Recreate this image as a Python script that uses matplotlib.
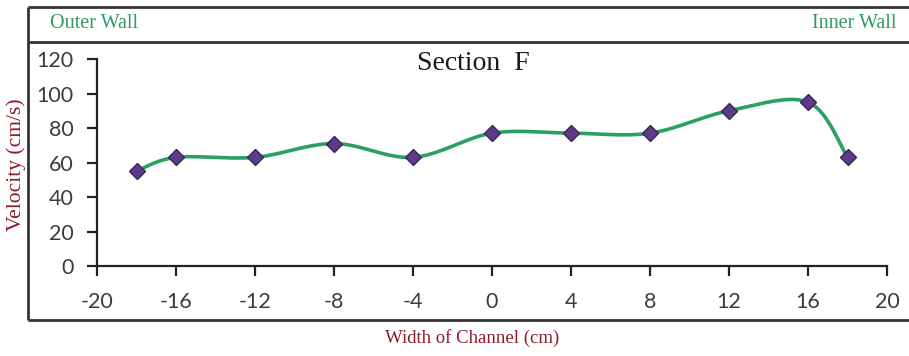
import numpy as np
import matplotlib
matplotlib.use("Agg")
import matplotlib.pyplot as plt
from matplotlib.lines import Line2D

# Measurement positions across the channel (cm) and depth-averaged velocity (cm/s)
width_cm = [-18, -16, -12, -8, -4, 0, 4, 8, 12, 16, 18]
velocity = [55, 63, 63, 71, 63, 77, 77, 77, 90, 95, 63]

x_ticks = [-20, -16, -12, -8, -4, 0, 4, 8, 12, 16, 20]
y_ticks = [0, 20, 40, 60, 80, 100, 120]

title = "Section  F"
x_label = "Width of Channel (cm)"
y_label = "Velocity (cm/s)"
left_note = "Outer Wall"
right_note = "Inner Wall"


def smooth_curve(xs, ys, n=40):
    """Cubic Bezier smoothing through every point (spreadsheet-style smoothed line)."""
    p = np.column_stack([xs, ys]).astype(float)
    ext = np.vstack([p[0], p, p[-1]])
    out = []
    t = np.linspace(0, 1, n)[:, None]
    for i in range(len(p) - 1):
        p0, p1, p2, p3 = ext[i], ext[i + 1], ext[i + 2], ext[i + 3]
        c1 = p1 + (p2 - p0) / 6.0
        c2 = p2 - (p3 - p1) / 6.0
        seg = ((1 - t) ** 3) * p1 + 3 * ((1 - t) ** 2) * t * c1 + 3 * (1 - t) * t ** 2 * c2 + t ** 3 * p2
        out.append(seg if i == 0 else seg[1:])
    seg = np.vstack(out)
    return seg[:, 0], seg[:, 1]


W, H = 909, 356
fig = plt.figure(figsize=(W / 100, H / 100), dpi=100)
fig.patch.set_facecolor("white")


def fx(px):
    return px / W


def fy(py):
    return 1 - py / H


ax = fig.add_axes([fx(97), fy(266), fx(887) - fx(97), fy(59) - fy(266)])
ax.set_facecolor("none")

sx, sy = smooth_curve(width_cm, velocity)
ax.plot(sx, sy, color="#2aa064", lw=2.6, solid_capstyle="round", zorder=2)
ax.plot(width_cm, velocity, linestyle="none", marker="D", markersize=8,
        markerfacecolor="#5c3b88", markeredgecolor="#3a2458", markeredgewidth=1.0, zorder=3)

ax.set_xlim(-20, 20)
ax.set_ylim(0, 120)
ax.set_xticks(x_ticks)
ax.set_yticks(y_ticks)
ax.set_xticklabels([str(v) for v in x_ticks])
ax.set_yticklabels([str(v) for v in y_ticks])

for side in ("top", "right"):
    ax.spines[side].set_visible(False)
for side in ("left", "bottom"):
    ax.spines[side].set_color("#222222")
    ax.spines[side].set_linewidth(1.6)

ax.tick_params(axis="x", direction="out", length=7, width=1.6, color="#222222", pad=12)
ax.tick_params(axis="y", direction="out", length=7, width=1.6, color="#222222", pad=10)
for lab in ax.get_xticklabels() + ax.get_yticklabels():
    lab.set_fontfamily("Lato")
    lab.set_fontsize(15.5)
    lab.set_color("#3c3c3c")

serif = ["Liberation Serif", "DejaVu Serif"]
fig.text(fx(473), fy(64), title, ha="center", va="center", fontsize=20,
         family=serif, color="#1a1a1a")
fig.text(fx(472), fy(338), x_label, ha="center", va="center", fontsize=13.5,
         family=serif, color="#8b1c2c")
fig.text(fx(16), fy(165), y_label, ha="center", va="center", rotation=90, fontsize=15.5,
         family=serif, color="#8b1c2c")
fig.text(fx(50), fy(24), left_note, ha="left", va="center", fontsize=14.5,
         family=serif, color="#2f9a66")
fig.text(fx(897), fy(24), right_note, ha="right", va="center", fontsize=14.5,
         family=serif, color="#2f9a66")

# Frame around the plot with a header band for the wall labels
frame = dict(color="#333333", lw=2.0, transform=fig.transFigure, solid_capstyle="butt")
fig.add_artist(Line2D([fx(28), fx(28)], [fy(7), fy(320)], **frame))
fig.add_artist(Line2D([fx(28), 1.0], [fy(7), fy(7)], **frame))
fig.add_artist(Line2D([fx(28), 1.0], [fy(42), fy(42)], **frame))
fig.add_artist(Line2D([fx(28), 1.0], [fy(320), fy(320)], **frame))

fig.savefig("out.png", dpi=100, facecolor="white")
